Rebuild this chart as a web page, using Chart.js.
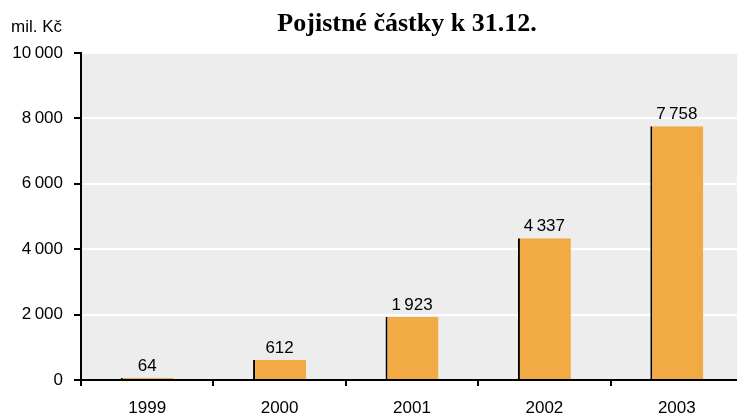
<!DOCTYPE html>
<html>
<head>
<meta charset="utf-8">
<script src="https://cdn.jsdelivr.net/npm/chart.js@4/dist/chart.umd.min.js"></script>
<style>
  html, body { margin: 0; padding: 0; background: #fff; overflow: hidden; width: 737px; height: 418px; }
  #wrap { width: 745px; height: 418px; position: relative; }
</style>
</head>
<body>
<div id="wrap"><canvas id="c"></canvas></div>
<script>
const categories = ['1999', '2000', '2001', '2002', '2003'];
const values = [64, 612, 1923, 4337, 7758];
const yTicks = [0, 2000, 4000, 6000, 8000, 10000];
const titleText = 'Pojistné částky k 31.12.';
const unitText = 'mil. Kč';

const SANS = '"Liberation Sans", Arial, sans-serif';

function fmt(v) {
  return String(v).replace(/\B(?=(\d{3})+(?!\d))/g, '\u2009');
}

const bgPlugin = {
  id: 'bg',
  beforeDraw(chart) {
    const a = chart.chartArea, ctx = chart.ctx;
    ctx.save();
    ctx.fillStyle = '#EDEDED';
    ctx.fillRect(a.left, a.top, a.right - a.left, a.bottom - a.top);
    ctx.restore();
  }
};

const textPlugin = {
  id: 'texts',
  afterDraw(chart) {
    const ctx = chart.ctx, a = chart.chartArea;
    ctx.save();
    ctx.fillStyle = '#000';
    ctx.font = 'bold 26px "Liberation Serif", "Times New Roman", serif';
    ctx.textAlign = 'center';
    ctx.textBaseline = 'alphabetic';
    ctx.fillText(titleText, (a.left + a.right) / 2 - 5, 31);
    ctx.font = '17px ' + SANS;
    ctx.textAlign = 'left';
    ctx.fillText(unitText, 11, 32);
    const meta = chart.getDatasetMeta(0);
    ctx.textAlign = 'center';
    meta.data.forEach((bar, i) => {
      ctx.fillText(fmt(values[i]), bar.x, bar.y - 7);
    });
    ctx.restore();
  }
};

new Chart(document.getElementById('c'), {
  type: 'bar',
  data: {
    labels: categories,
    datasets: [{
      data: values,
      backgroundColor: '#F2AA44',
      borderColor: '#000',
      borderWidth: { left: 2, right: 0, top: 0, bottom: 0 },
      borderSkipped: false,
      barPercentage: 0.4,
      categoryPercentage: 1.0
    }]
  },
  plugins: [bgPlugin, textPlugin],
  options: {
    responsive: true,
    maintainAspectRatio: false,
    animation: false,
    events: [],
    layout: { padding: { top: 53, right: 2, left: 0, bottom: 0 } },
    plugins: { legend: { display: false }, title: { display: false }, tooltip: { enabled: false } },
    scales: {
      x: {
        grid: { display: true, drawOnChartArea: false, drawTicks: true, tickLength: 6, color: '#000', lineWidth: 2, offset: true },
        border: { display: true, color: '#000', width: 2 },
        ticks: { color: '#000', font: { family: SANS, size: 17 }, padding: 12 },
        afterFit(s) { s.height = 38; }
      },
      y: {
        min: 0, max: 10000,
        afterBuildTicks(s) { s.ticks = yTicks.map(v => ({ value: v })); },
        grid: { color: '#fff', lineWidth: 2, drawTicks: true, tickLength: 7, tickColor: '#000', tickWidth: 2 },
        border: { display: true, color: '#000', width: 2 },
        ticks: { color: '#000', font: { family: SANS, size: 17 }, padding: 11, callback: v => fmt(v) },
        afterFit(s) { s.width = 81; }
      }
    }
  }
});
</script>
</body>
</html>
